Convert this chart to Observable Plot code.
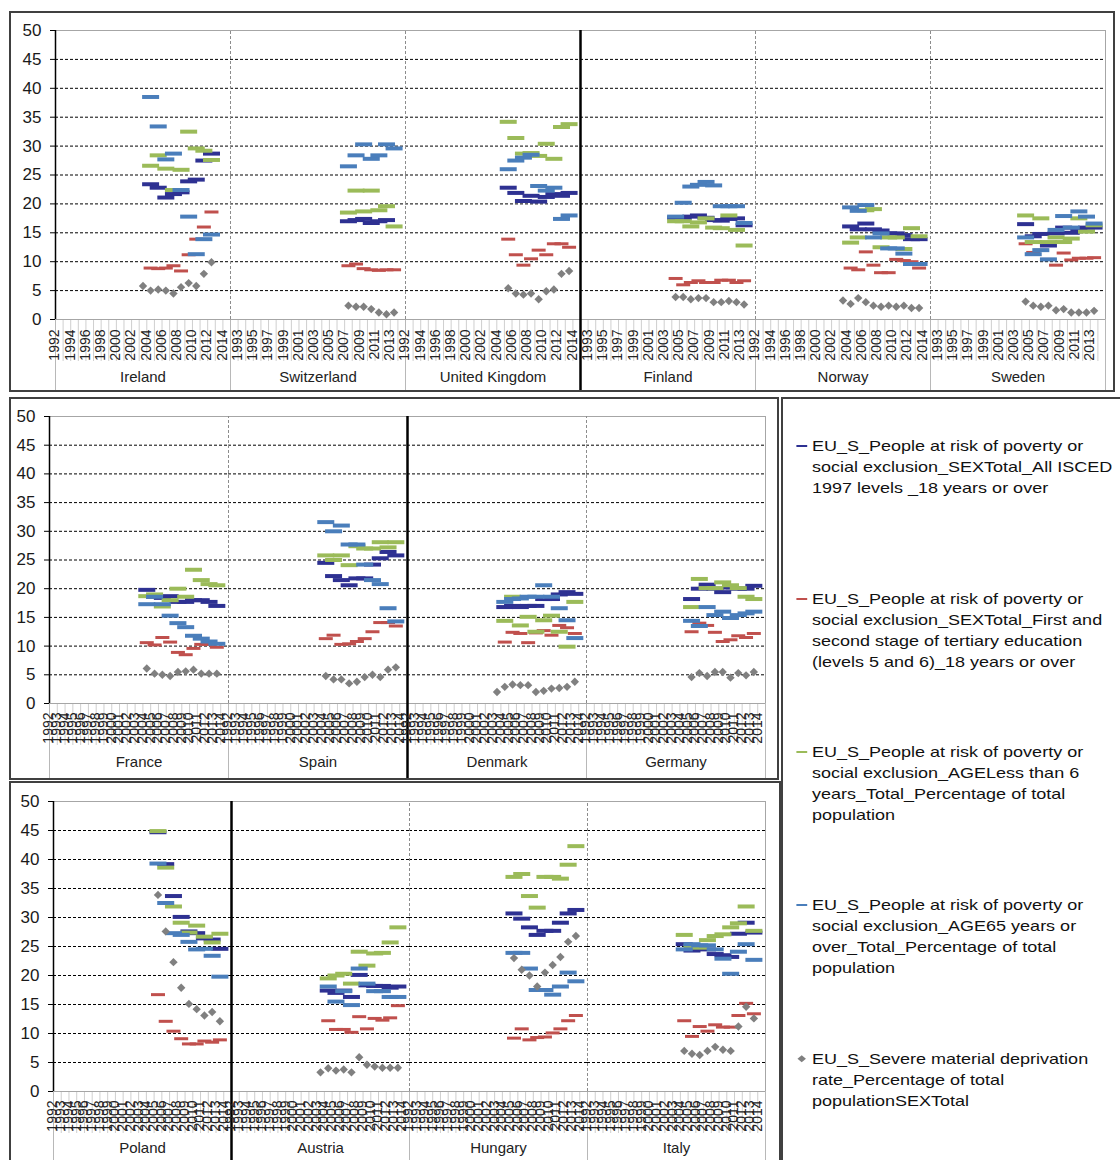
<!DOCTYPE html>
<html>
<head>
<meta charset="utf-8">
<script src="https://cdn.jsdelivr.net/npm/d3@7"></script>
<script src="https://cdn.jsdelivr.net/npm/@observablehq/plot@0.6"></script>
<style>
  body { margin: 0; background: #fff; font-family: "Liberation Sans", Arial, sans-serif; }
  #root { position: relative; width: 1120px; height: 1160px; overflow: hidden; background: #fff; }
  .box { position: absolute; border: 2px solid #404040; box-sizing: border-box; }
  .panel { position: absolute; }
  .legend { position: absolute; left: 781px; top: 397px; width: 400px; height: 820px; border: 2px solid #404040; box-sizing: border-box; }
  .item { position: absolute; left: 29px; font-size: 15px; line-height: 21px; color: #111; white-space: nowrap; transform: scaleX(1.2); transform-origin: 0 0; }
  .mk { position: absolute; left: -13px; top: 10px; width: 9px; height: 2px; }
  .mkd { position: absolute; left: -11px; top: 8px; width: 4.5px; height: 5px; background: #808080; transform: rotate(45deg); }
</style>
</head>
<body>
<div id="root"></div>
<script>
// ---------- categories ----------
const years = d3.range(1992, 2015);
const topCountries = ["Ireland", "Switzerland", "United Kingdom", "Finland", "Norway", "Sweden"];
const midCountries = ["France", "Spain", "Denmark", "Germany"];
const lowCountries = ["Poland", "Austria", "Hungary", "Italy"];
const groupStarts = ["Finland", "Denmark", "Austria"];

// ---------- series values: [country, first year, values] ----------
const allAdults = [
  ["Ireland", 2004, [23.4, 22.8, 21.1, 21.7, 22.0, 23.9, 24.2, 27.5, 28.7]],
  ["Switzerland", 2007, [17.0, 17.2, 17.4, 16.7, 17.0, 17.2]],
  ["United Kingdom", 2005, [22.8, 21.9, 20.5, 21.4, 20.4, 21.2, 21.7, 21.4, 21.9]],
  ["Finland", 2004, [17.6, 17.6, 17.8, 18.0, 17.6, 17.2, 17.1, 17.4, 17.5, 16.3]],
  ["Norway", 2004, [16.1, 15.6, 16.6, 15.6, 15.4, 14.9, 14.9, 14.6, 13.9, 13.9]],
  ["Sweden", 2004, [16.5, 14.4, 14.8, 12.8, 14.9, 15.9, 15.0, 15.6, 15.9, 15.9]],
  ["France", 2004, [19.8, 18.6, 18.4, 18.7, 17.7, 17.7, 18.0, 18.0, 17.7, 17.0]],
  ["Spain", 2004, [24.5, 22.2, 21.5, 20.6, 21.8, 21.8, 24.2, 25.3, 26.4, 25.8]],
  ["Denmark", 2004, [16.8, 17.0, 16.8, 17.0, 17.0, 18.2, 18.2, 19.0, 19.4, 19.1]],
  ["Germany", 2005, [18.2, 20.0, 20.7, 20.0, 19.4, 20.2, 20.0, 20.0, 20.5]],
  ["Poland", 2005, [44.7, 39.2, 33.7, 30.1, 27.6, 27.3, 26.4, 26.2, 24.6]],
  ["Austria", 2004, [17.4, 17.0, 17.4, 16.3, 20.1, 18.3, 18.2, 18.2, 17.9, 18.1]],
  ["Hungary", 2005, [30.7, 29.8, 28.3, 27.0, 27.7, 27.7, 29.1, 30.7, 31.3]],
  ["Italy", 2004, [25.4, 24.3, 24.6, 24.5, 23.7, 23.5, 23.2, 27.2, 29.1, 27.4]]
];
const tertiary = [
  ["Ireland", 2004, [8.9, 8.8, 8.9, 9.3, 8.4, 11.2, 13.9, 16.0, 18.6]],
  ["Switzerland", 2007, [9.3, 9.6, 8.8, 8.6, 8.5, 8.6, 8.6]],
  ["United Kingdom", 2005, [13.9, 11.2, 9.4, 10.5, 12.0, 11.2, 13.1, 13.1, 12.5]],
  ["Finland", 2004, [7.1, 6.0, 6.4, 6.7, 6.4, 6.4, 6.8, 6.8, 6.4, 6.7]],
  ["Norway", 2004, [8.9, 8.6, 11.7, 9.4, 8.1, 8.1, 10.4, 10.2, 10.0, 8.9]],
  ["Sweden", 2004, [13.1, 11.6, 12.0, 10.4, 9.4, 11.5, 10.3, 10.6, 10.6, 10.7]],
  ["France", 2004, [10.6, 10.2, 11.5, 10.7, 8.9, 8.5, 9.6, 10.3, 10.3, 9.8]],
  ["Spain", 2004, [11.3, 11.9, 10.3, 10.4, 10.8, 11.3, 12.5, 14.1, 14.1, 13.5]],
  ["Denmark", 2004, [10.7, 12.4, 12.2, 10.6, 12.3, 12.7, 11.9, 13.6, 13.2, 12.2]],
  ["Germany", 2005, [12.5, 14.0, 13.6, 12.4, 10.8, 11.1, 11.8, 11.5, 12.2]],
  ["Poland", 2005, [16.7, 12.1, 10.4, 9.1, 8.2, 8.2, 8.7, 8.5, 8.9]],
  ["Austria", 2004, [12.2, 10.7, 10.7, 10.2, 12.9, 10.8, 12.6, 12.3, 12.7, 14.8]],
  ["Hungary", 2005, [9.2, 10.8, 8.9, 9.3, 9.4, 10.1, 10.8, 12.2, 13.1]],
  ["Italy", 2004, [12.2, 9.5, 11.2, 10.4, 11.5, 11.1, 11.1, 13.1, 15.2, 13.4]]
];
const under6 = [
  ["Ireland", 2004, [26.6, 28.4, 26.1, 22.4, 25.9, 32.5, 29.6, 29.2, 27.6]],
  ["Switzerland", 2007, [18.5, 22.3, 18.7, 22.3, 18.9, 19.6, 16.1]],
  ["United Kingdom", 2005, [34.2, 31.4, 28.7, 28.8, 28.3, 30.4, 27.8, 33.3, 33.8]],
  ["Finland", 2004, [17.0, 17.0, 16.1, 16.8, 17.5, 15.9, 15.8, 18.0, 15.5, 12.8]],
  ["Norway", 2004, [13.3, 14.2, 18.9, 19.1, 12.5, 14.2, 14.2, 12.2, 15.8, 14.4]],
  ["Sweden", 2004, [18.0, 13.4, 17.5, 13.4, 14.2, 13.4, 14.0, 17.5, 15.2, 16.3]],
  ["France", 2004, [18.7, 19.0, 16.9, 18.0, 20.0, 18.6, 23.3, 21.5, 20.8, 20.6]],
  ["Spain", 2004, [25.8, 25.0, 25.8, 24.1, 27.4, 27.0, 27.0, 28.1, 27.2, 28.1]],
  ["Denmark", 2004, [14.4, 18.6, 13.6, 15.1, 12.5, 14.5, 15.3, 12.5, 9.9, 17.7]],
  ["Germany", 2005, [16.8, 21.7, 20.1, 20.1, 21.1, 20.6, 20.1, 18.6, 18.2]],
  ["Poland", 2005, [44.9, 38.6, 31.9, 29.1, 27.4, 28.6, 26.7, 25.7, 27.2]],
  ["Austria", 2004, [19.5, 20.0, 20.3, 18.6, 24.1, 21.7, 23.8, 23.9, 25.7, 28.3]],
  ["Hungary", 2005, [37.0, 37.5, 33.7, 31.7, 37.0, 37.0, 36.7, 39.1, 42.3]],
  ["Italy", 2004, [27.0, 25.0, 24.8, 26.1, 26.8, 27.1, 28.3, 29.0, 31.9, 27.7]]
];
const over65 = [
  ["Ireland", 2004, [38.5, 33.4, 27.7, 28.7, 22.4, 17.8, 11.3, 13.9, 14.7]],
  ["Switzerland", 2007, [26.5, 28.4, 30.3, 27.8, 28.4, 30.3, 29.6]],
  ["United Kingdom", 2005, [26.0, 27.5, 28.0, 28.5, 23.1, 22.3, 22.8, 17.4, 18.0]],
  ["Finland", 2004, [17.8, 20.2, 23.0, 23.3, 23.8, 23.2, 19.6, 19.6, 19.6, 16.7]],
  ["Norway", 2004, [19.4, 18.8, 19.8, 14.2, 14.9, 12.3, 12.3, 11.4, 9.6, 9.6]],
  ["Sweden", 2004, [14.2, 11.3, 12.0, 10.4, 15.5, 17.9, 15.9, 18.7, 17.8, 16.6]],
  ["France", 2004, [17.3, 18.6, 17.3, 15.3, 14.0, 13.3, 11.8, 11.3, 10.8, 10.4]],
  ["Spain", 2004, [31.6, 30.0, 31.0, 27.7, 27.7, 24.2, 21.5, 20.8, 16.6, 14.3]],
  ["Denmark", 2004, [17.7, 18.2, 18.3, 18.6, 18.6, 20.6, 18.6, 16.6, 14.5, 11.4]],
  ["Germany", 2005, [14.4, 13.5, 16.8, 15.4, 16.0, 14.9, 15.4, 15.7, 16.0]],
  ["Poland", 2005, [39.3, 32.5, 27.3, 27.0, 25.8, 24.5, 24.6, 23.4, 19.8]],
  ["Austria", 2004, [18.1, 15.5, 17.3, 14.9, 21.2, 18.6, 17.3, 17.3, 16.3, 16.3]],
  ["Hungary", 2005, [23.9, 23.9, 21.2, 17.5, 17.5, 16.7, 18.1, 20.5, 19.0]],
  ["Italy", 2004, [24.5, 25.4, 25.2, 25.2, 24.5, 22.9, 20.3, 24.1, 25.4, 22.7]]
];
const deprivation = [
  ["Ireland", 2003, [5.8, 5.0, 5.2, 5.0, 4.5, 5.6, 6.3, 5.8, 7.9, 9.9]],
  ["Switzerland", 2007, [2.4, 2.2, 2.2, 1.8, 1.2, 0.9, 1.2]],
  ["United Kingdom", 2005, [5.4, 4.5, 4.3, 4.5, 3.5, 4.9, 5.2, 7.9, 8.4]],
  ["Finland", 2004, [3.9, 3.9, 3.5, 3.7, 3.7, 3.0, 3.0, 3.2, 3.0, 2.6]],
  ["Norway", 2003, [3.3, 2.7, 3.7, 3.0, 2.4, 2.2, 2.4, 2.2, 2.4, 2.0, 2.0]],
  ["Sweden", 2004, [3.1, 2.4, 2.2, 2.4, 1.6, 1.8, 1.2, 1.2, 1.2, 1.5]],
  ["France", 2004, [6.1, 5.2, 5.0, 4.8, 5.5, 5.6, 5.9, 5.2, 5.2, 5.2]],
  ["Spain", 2004, [4.8, 4.2, 4.2, 3.5, 3.8, 4.6, 5.0, 4.6, 5.9, 6.3]],
  ["Denmark", 2003, [2.0, 2.9, 3.3, 3.2, 3.2, 2.0, 2.2, 2.6, 2.7, 2.9, 3.8]],
  ["Germany", 2005, [4.6, 5.3, 4.8, 5.5, 5.5, 4.5, 5.3, 4.9, 5.5]],
  ["Poland", 2005, [33.9, 27.6, 22.3, 17.9, 15.1, 14.2, 13.1, 13.7, 12.1]],
  ["Austria", 2003, [3.3, 4.0, 3.6, 3.8, 3.3, 5.9, 4.6, 4.3, 4.1, 4.1, 4.1]],
  ["Hungary", 2005, [23.0, 21.0, 20.0, 18.1, 20.5, 21.8, 23.2, 25.8, 26.8]],
  ["Italy", 2004, [7.0, 6.5, 6.3, 7.0, 7.7, 7.2, 7.0, 11.2, 14.6, 12.6]]
];

const legendTexts = [
  ["EU_S_People at risk of poverty or", "social exclusion_SEXTotal_All ISCED", "1997 levels _18 years or over"],
  ["EU_S_People at risk of poverty or", "social exclusion_SEXTotal_First and", "second stage of tertiary education", "(levels 5 and 6)_18 years or over"],
  ["EU_S_People at risk of poverty or", "social exclusion_AGELess than 6", "years_Total_Percentage of total", "population"],
  ["EU_S_People at risk of poverty or", "social exclusion_AGE65 years or", "over_Total_Percentage of total", "population"],
  ["EU_S_Severe material deprivation", "rate_Percentage of total", "populationSEXTotal"]
];

// ---------- styling ----------
const dashSymbol = (w, h) => ({ draw(ctx) { ctx.rect(-w / 2, -h / 2, w, h); } });
const diamondSymbol = { draw(ctx) { const r = 4.2; ctx.moveTo(0, -r); ctx.lineTo(r, 0); ctx.lineTo(0, r); ctx.lineTo(-r, 0); ctx.closePath(); } };
const seriesDefs = [
  { rows: allAdults, color: "#2e3192", symbol: dashSymbol(17, 4) },
  { rows: tertiary, color: "#c0504d", symbol: dashSymbol(14, 3) },
  { rows: under6, color: "#9bbb59", symbol: dashSymbol(17, 4) },
  { rows: over65, color: "#4a7ebb", symbol: dashSymbol(17, 4) },
  { rows: deprivation, color: "#808080", symbol: diamondSymbol }
];
const tidy = rows => rows.flatMap(([country, start, vals]) => vals.map((v, i) => ({ country, year: start + i, value: v })));

function panel(countries, cfg) {
  const plotH = cfg.height - cfg.marginTop - cfg.marginBottom;
  const ppu = plotH / 50;
  const yPanelBottom = -cfg.marginBottom / ppu;
  const yTick = -cfg.tickLen / ppu;
  const f = { fx: "country", x: "x" };
  const edges = countries.map(c => ({ country: c, x: 1991.5 }));
  const rightEdge = [{ country: countries[countries.length - 1], x: 2014.5 }];
  const bounds = countries.flatMap(c => d3.range(1992.5, 2014.5, 1).map(x => ({ country: c, x })));
  const labels = countries.flatMap((c, i) => years
    .filter((y, k) => cfg.every === 1 || (i * years.length + k) % 2 === 0)
    .map(y => ({ country: c, year: y })));
  const marks = [
    Plot.ruleY(d3.range(5, 50, 5), { stroke: "#000", strokeWidth: 1, strokeDasharray: "3,2" }),
    Plot.ruleY([50], { stroke: "#a6a6a6" }),
    Plot.ruleX(bounds, { ...f, y1: yTick, y2: 0, stroke: "#cfcfcf" }),
    Plot.ruleX(edges.slice(1), { ...f, y1: 0, y2: 50, stroke: "#8c8c8c", strokeDasharray: "3,2" }),
    Plot.ruleX([...edges, ...rightEdge], { ...f, y1: yPanelBottom, y2: 0, stroke: "#b8b8b8" }),
    Plot.ruleX(rightEdge, { ...f, y1: 0, y2: 50, stroke: "#a6a6a6" }),
    Plot.ruleY([0], { stroke: "#a6a6a6" }),
    Plot.ruleX(edges.slice(0, 1), { ...f, y1: 0, y2: 50, stroke: "#000", strokeWidth: 1.5 }),
    Plot.ruleX(edges.filter(e => groupStarts.includes(e.country)), { ...f, y1: yPanelBottom, y2: 50, stroke: "#000", strokeWidth: 2.5 }),
    Plot.axisY({ ticks: d3.range(0, 51, 5), tickSize: 5, tickPadding: 9, fontSize: 17, label: null, stroke: "#000" }),
    ...seriesDefs.map(s => Plot.dot(tidy(s.rows).filter(d => countries.includes(d.country)), {
      fx: "country", x: "year", y: "value", symbol: s.symbol, r: 3, fill: s.color, stroke: "none"
    })),
    Plot.text(labels, { fx: "country", x: "year", text: d => String(d.year), frameAnchor: "bottom", rotate: -90, textAnchor: "end", dy: cfg.labelDy, fontSize: 14, fill: "#222" }),
    Plot.text(countries, { fx: d => d, text: d => d, frameAnchor: "bottom", dy: cfg.nameDy, fontSize: 15, fill: "#222" })
  ];
  return Plot.plot({
    width: cfg.width, height: cfg.height,
    marginLeft: cfg.marginLeft, marginRight: cfg.marginRight, marginTop: cfg.marginTop, marginBottom: cfg.marginBottom,
    style: { fontFamily: "'Liberation Sans', Arial, sans-serif", color: "#1a1a1a", background: "transparent", overflow: "visible" },
    x: { domain: [1991.5, 2014.5], axis: null },
    y: { domain: [0, 50] },
    fx: { domain: countries, padding: 0, axis: null },
    marks
  });
}

const root = document.getElementById("root");
function place(el, left, top, cls) {
  const d = document.createElement("div");
  d.className = cls; d.style.left = left + "px"; d.style.top = top + "px";
  d.appendChild(el); root.appendChild(d); return d;
}
function box(left, top, w, h) {
  const d = document.createElement("div");
  d.className = "box";
  Object.assign(d.style, { left: left + "px", top: top + "px", width: w + "px", height: h + "px" });
  root.appendChild(d);
}

box(9, 11, 1106, 381);
box(9, 397, 770, 383);
box(9, 781, 772, 420);

place(panel(topCountries, { width: 1103, height: 378, marginLeft: 44, marginRight: 8, marginTop: 18, marginBottom: 71, tickLen: 42, every: 2, nameDy: 62, labelDy: 10 }), 10, 12, "panel");
place(panel(midCountries, { width: 768, height: 380, marginLeft: 39, marginRight: 13, marginTop: 18, marginBottom: 75, tickLen: 42, every: 1, nameDy: 63, labelDy: 9 }), 10, 398, "panel");
place(panel(lowCountries, { width: 770, height: 378, marginLeft: 41, marginRight: 14, marginTop: 19, marginBottom: 69, tickLen: 42, every: 1, nameDy: 61, labelDy: 9 }), 10, 782, "panel");

// legend
const lg = document.createElement("div");
lg.className = "legend";
root.appendChild(lg);
const entryTops = [35.5, 188.5, 341.5, 494.5, 648.5];
legendTexts.forEach((lines, i) => {
  const it = document.createElement("div");
  it.className = "item";
  it.style.top = entryTops[i] + "px";
  const mk = document.createElement("div");
  if (i === 4) { mk.className = "mkd"; }
  else { mk.className = "mk"; mk.style.background = seriesDefs[i].color; }
  it.appendChild(mk);
  lines.forEach(t => {
    const s = document.createElement("div");
    s.textContent = t;
    it.appendChild(s);
  });
  lg.appendChild(it);
});
</script>
</body>
</html>
